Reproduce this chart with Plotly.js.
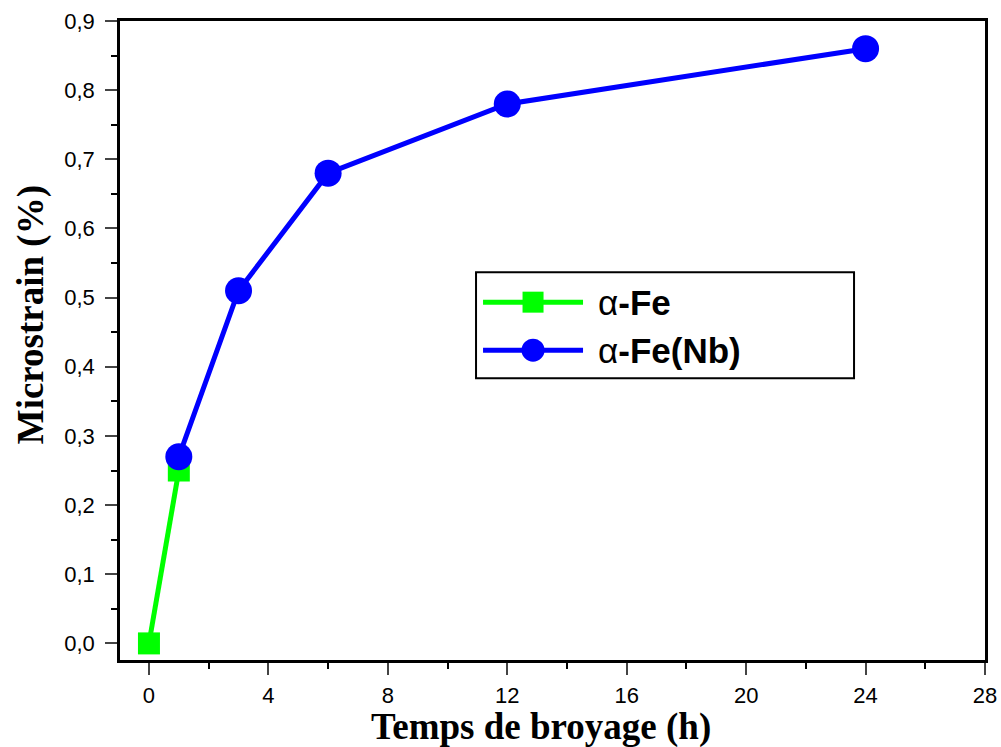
<!DOCTYPE html>
<html><head><meta charset="utf-8">
<script src="https://cdn.plot.ly/plotly-3.0.1.min.js"></script>
<style>body{margin:0;background:#fff}#c{width:1001px;height:747px}</style>
</head><body><div id="c"></div>
<script>
const feTime = [0, 1];
const feStrain = [0, 0.25];
const nbTime = [1, 3, 6, 12, 24];
const nbStrain = [0.27, 0.51, 0.68, 0.78, 0.86];
const seriesNames = ['-Fe', '-Fe(Nb)'];
const yTickVals = [0, 0.1, 0.2, 0.3, 0.4, 0.5, 0.6, 0.7, 0.8, 0.9];
const yTickText = ['0,0','0,1','0,2','0,3','0,4','0,5','0,6','0,7','0,8','0,9'];
const xTickVals = [0, 4, 8, 12, 16, 20, 24, 28];
const green = '#00ff00', blue = '#0000ff';

const traces = [
  {x: feTime, y: feStrain, name: 'α' + seriesNames[0], mode: 'lines+markers', showlegend: false,
   line: {color: green, width: 5}, marker: {symbol: 'square', size: 22, color: green}},
  {x: nbTime, y: nbStrain, name: 'α' + seriesNames[1], mode: 'lines+markers', showlegend: false,
   line: {color: blue, width: 5}, marker: {symbol: 'circle', size: 27, color: blue}}
];

// custom legend (paper coordinates)
const lgX0 = 0.4116, lgX1 = 0.8486, lgY0 = 0.4411, lgY1 = 0.6069;
const rowY = [0.560, 0.4849];
const lnX0 = 0.4197, lnX1 = 0.5353, mkX = 0.4775, txtX = 0.5503;
const shapes = [
  {type: 'rect', xref: 'paper', yref: 'paper', x0: lgX0, x1: lgX1, y0: lgY0, y1: lgY1,
   line: {color: '#000', width: 2}, fillcolor: '#fff', layer: 'above'},
  {type: 'line', xref: 'paper', yref: 'paper', x0: lnX0, x1: lnX1, y0: rowY[0], y1: rowY[0], line: {color: green, width: 5}},
  {type: 'rect', xref: 'paper', yref: 'paper', x0: mkX - 0.01214, x1: mkX + 0.01214, y0: rowY[0] - 0.01642, y1: rowY[0] + 0.01642,
   line: {width: 0}, fillcolor: green},
  {type: 'line', xref: 'paper', yref: 'paper', x0: lnX0, x1: lnX1, y0: rowY[1], y1: rowY[1], line: {color: blue, width: 5}},
  {type: 'circle', xref: 'paper', yref: 'paper', x0: mkX - 0.0133, x1: mkX + 0.0133, y0: rowY[1] - 0.018, y1: rowY[1] + 0.018,
   line: {width: 0}, fillcolor: blue}
];
const lgFont = {family: 'Liberation Sans, Arial', size: 35, color: '#000', weight: 'bold'};
const annotations = seriesNames.map((n, i) => ({
  xref: 'paper', yref: 'paper', x: txtX, y: rowY[i], xanchor: 'left', yanchor: 'middle', showarrow: false,
  text: '<span style="font-weight:normal">α</span>' + n, font: lgFont
}));
const titleFont = {family: 'Liberation Serif, Times New Roman', size: 37, color: '#000', weight: 'bold'};
annotations.push({xref: 'paper', yref: 'paper', x: 0.4867, y: -0.0695, xanchor: 'center', yanchor: 'top',
  showarrow: false, text: 'Temps de broyage (h)', font: titleFont});
annotations.push({xref: 'paper', yref: 'paper', x: -0.1029, y: 0.541, xanchor: 'center', yanchor: 'middle',
  showarrow: false, textangle: -90, text: 'Microstrain (%)', font: titleFont});

const tickFont = {family: 'Liberation Sans, Arial', size: 22, color: '#000'};
const layout = {
  width: 1001, height: 747,
  margin: {l: 120, r: 16, t: 21, b: 87},
  paper_bgcolor: '#fff', plot_bgcolor: '#fff',
  showlegend: false,
  shapes: shapes, annotations: annotations,
  xaxis: {range: [-0.97, 28], tickvals: xTickVals, ticks: 'outside', ticklen: 12, tickwidth: 2,
    ticklabelstandoff: 2,
    showline: true, linewidth: 2.5, linecolor: '#000', mirror: true, showgrid: false, zeroline: false,
    tickfont: tickFont,
    minor: {dtick: 2, tick0: 0, ticks: 'outside', ticklen: 6, tickwidth: 2, tickcolor: '#000'}},
  yaxis: {range: [-0.024, 0.9], tickvals: yTickVals, ticktext: yTickText, ticks: 'outside', ticklen: 12, tickwidth: 2,
    ticklabelstandoff: 6,
    showline: true, linewidth: 2.5, linecolor: '#000', mirror: true, showgrid: false, zeroline: false,
    tickfont: tickFont,
    minor: {dtick: 0.05, tick0: 0, ticks: 'outside', ticklen: 6, tickwidth: 2, tickcolor: '#000'}}
};
Plotly.newPlot('c', traces, layout, {displayModeBar: false});
</script></body></html>
